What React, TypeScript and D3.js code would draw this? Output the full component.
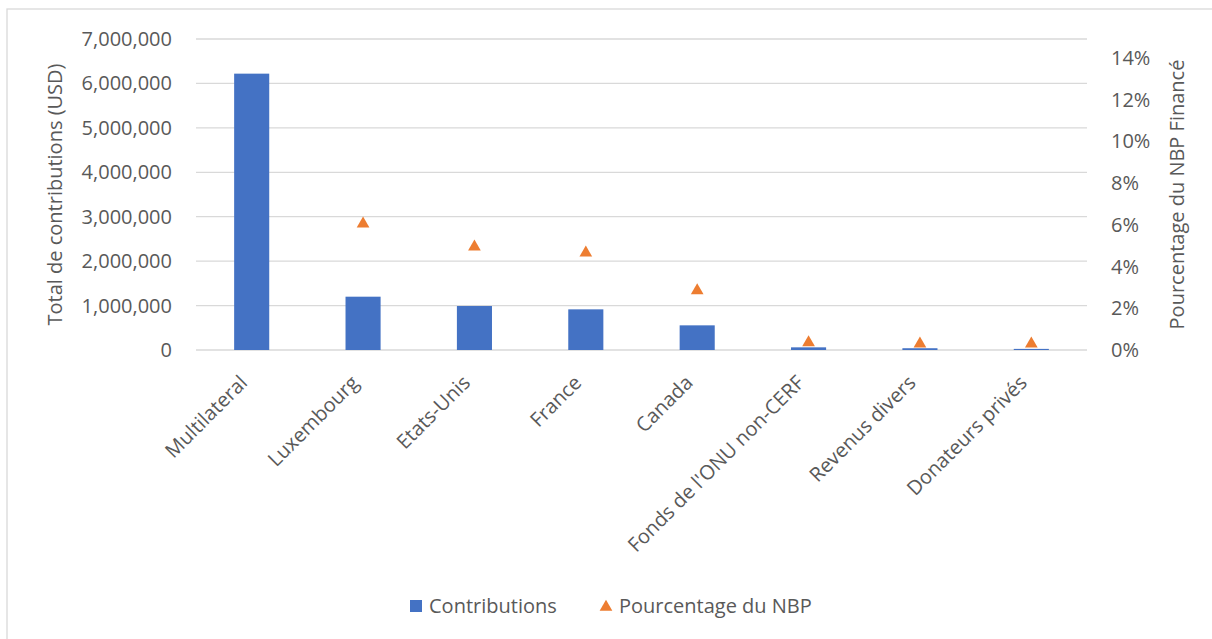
import React from "react";
import * as d3 from "d3";

const categories = [
  "Multilateral",
  "Luxembourg",
  "Etats-Unis",
  "France",
  "Canada",
  "Fonds de l'ONU non-CERF",
  "Revenus divers",
  "Donateurs privés",
];
const contributions = [6220000, 1200000, 990000, 915000, 555000, 60000, 40000, 25000];
const pourcentage = [0.0604, 0.0494, 0.0465, 0.0285, 0.0036, 0.0029, 0.0029];
const pctCategories = categories.slice(1);
const leftTicks = [0, 1000000, 2000000, 3000000, 4000000, 5000000, 6000000, 7000000];
const rightTicks = [0, 0.02, 0.04, 0.06, 0.08, 0.1, 0.12, 0.14];

const W = 1212;
const H = 639;
const plot = { left: 196, right: 1087, top: 39, bottom: 350 };
const FONT = "'Open Sans', 'Noto Sans', sans-serif";
const TEXT = "#595959";
const GRID = "#d9d9d9";
const BLUE = "#4472C4";
const ORANGE = "#ED7D31";

export default function App() {
  const x = d3
    .scaleBand<string>()
    .domain(categories)
    .range([plot.left, plot.right])
    .paddingInner(0.685)
    .paddingOuter(0.3425);
  const y = d3.scaleLinear().domain([0, 7000000]).range([plot.bottom, plot.top]);
  const y2 = d3.scaleLinear().domain([0, 0.149]).range([plot.bottom, plot.top]);
  const fmt = d3.format(",");
  const pfmt = d3.format(".0%");
  const tri = d3.symbol().type(d3.symbolTriangle).size(70)() as string;
  const center = (c: string) => (x(c) as number) + x.bandwidth() / 2;

  return (
    <svg width={W} height={H} style={{ display: "block", position: "absolute", left: 0, top: 0 }} fontFamily={FONT}>
      <rect x={0} y={0} width={W} height={H} fill="#fff" />
      <rect x={7} y={9} width={1230} height={660} fill="#fff" stroke={GRID} strokeWidth={1.3} />
      {leftTicks.map((t) => (
        <line key={"g" + t} x1={plot.left} x2={plot.right} y1={y(t)} y2={y(t)} stroke={GRID} strokeWidth={1.3} />
      ))}
      {leftTicks.map((t) => (
        <text key={"l" + t} x={172} y={y(t)} dy="0.35em" textAnchor="end" fontSize={20} fill={TEXT}>
          {fmt(t)}
        </text>
      ))}
      {rightTicks.map((t) => (
        <text key={"r" + t} x={1111} y={y2(t)} dy="0.35em" textAnchor="start" fontSize={20} fill={TEXT}>
          {pfmt(t)}
        </text>
      ))}
      <text
        transform={`translate(55,${(plot.top + plot.bottom) / 2}) rotate(-90)`}
        textAnchor="middle"
        dy="0.35em"
        fontSize={20}
        fill={TEXT}
      >
        Total de contributions (USD)
      </text>
      <text
        transform={`translate(1177,${(plot.top + plot.bottom) / 2}) rotate(-90)`}
        textAnchor="middle"
        dy="0.35em"
        fontSize={20}
        fill={TEXT}
      >
        Pourcentage du NBP Financé
      </text>
      {categories.map((c, i) => (
        <rect
          key={"b" + c}
          x={x(c)}
          y={y(contributions[i])}
          width={x.bandwidth()}
          height={plot.bottom - y(contributions[i])}
          fill={BLUE}
        />
      ))}
      {pctCategories.map((c, i) => (
        <path key={"t" + c} d={tri} transform={`translate(${center(c)},${y2(pourcentage[i])})`} fill={ORANGE} />
      ))}
      {categories.map((c) => (
        <text
          key={"x" + c}
          transform={`translate(${center(c) - 8},${plot.bottom + 29}) rotate(-45)`}
          textAnchor="end"
          dy="0.35em"
          fontSize={20}
          fill={TEXT}
        >
          {c}
        </text>
      ))}
      <rect x={410} y={600} width={12} height={12} fill={BLUE} />
      <text x={429} y={606} dy="0.35em" fontSize={20} fill={TEXT}>
        Contributions
      </text>
      <path d={tri} transform="translate(606,607)" fill={ORANGE} />
      <text x={619} y={606} dy="0.35em" fontSize={20} fill={TEXT}>
        Pourcentage du NBP
      </text>
    </svg>
  );
}
